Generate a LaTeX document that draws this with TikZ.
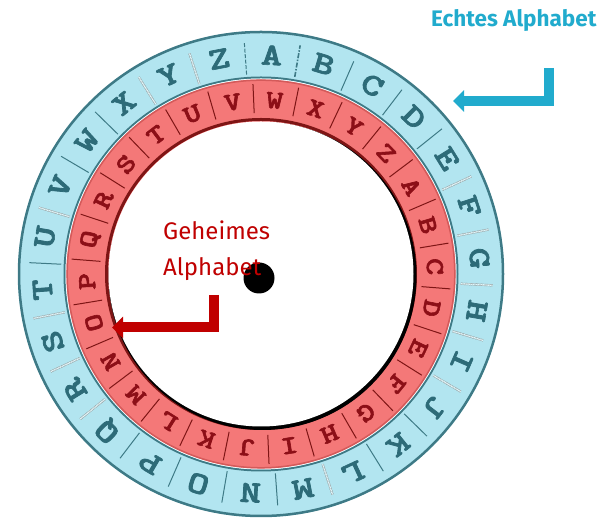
\documentclass[tikz,border=0pt]{standalone}
\usepackage{fontspec}
\usepackage{graphicx}
\usetikzlibrary{arrows.meta,calc}
\newfontfamily\labelfont{Fira Sans}
\newfontfamily\wheelfont{lmmonolt10-bold.otf}[FakeBold=2]
\definecolor{ringblue}{HTML}{B2E5F0}
\definecolor{tealdark}{HTML}{3E7A86}
\definecolor{tealletter}{HTML}{2D6B78}
\definecolor{ringred}{HTML}{F47878}
\definecolor{redshade}{HTML}{D45A5A}
\definecolor{maroon}{HTML}{7E1515}
\definecolor{redletter}{HTML}{8C0F17}
\definecolor{echteblue}{HTML}{21ABCD}
\definecolor{geheimred}{HTML}{C00000}
\tikzset{
  outerletter/.style={text=tealletter, inner sep=0pt,
    font=\wheelfont\fontsize{31}{31}\selectfont},
  innerletter/.style={text=redletter, inner sep=0pt,
    font=\wheelfont\fontsize{26}{26}\selectfont},
  seps/.style={draw=tealdark, line width=1},
  sepl/.style={draw=black!45, line width=0.4, double=white!60!ringblue, double distance=1.4, dash pattern=on 1.2 off 0.5},
  sepd/.style={draw=tealdark, line width=1, dash pattern=on 4 off 1.5},
  sepdd/.style={draw=tealdark, line width=1.6, dash pattern=on 5 off 1.5 on 1.5 off 1.5},
  innersep/.style={draw=maroon, line width=1},
  bigarrow/.style={line width=10pt, line join=miter, -{Triangle[width=21pt,length=11pt]}},
}
\begin{document}
\begin{tikzpicture}[x=1pt,y=1pt]
\useasboundingbox (0,0) rectangle (614,519);
\coordinate (C) at (261,245);
% outer (blue) ring
\fill[ringblue] (C) circle (243);
\draw[tealdark, line width=2.5] (C) circle (242);
\draw[tealdark, line width=2] (C) circle (196.5);
\fill[white!85!ringblue] (C) circle (195.5);
% inner (red) ring
\fill[ringred] (C) circle (194.5);
\draw[redshade, line width=1.5] (C) circle (193.8);
\draw[maroon, line width=3] (C) circle (154.5);
\fill[black] ($(C)+(1.5,-2)$) circle (154);
\fill[white] (C) circle (152.5);
% outer separators
\foreach \k/\t in {0/dd,1/s,2/s,3/s,4/l,5/l,6/l,7/l,8/l,9/s,10/s,11/l,12/s,13/s,14/s,15/s,16/l,17/l,18/l,19/s,20/l,21/s,22/s,23/l,24/l,25/d}{
  \pgfmathsetmacro{\ang}{87.2-\k*360/26-360/52}
  \draw[sep\t] ($(C)+(\ang:200)$) -- ($(C)+(\ang:232)$);
}
% inner separators
\foreach \k in {0,...,25}{
  \pgfmathsetmacro{\ang}{85.5-\k*360/26-360/52}
  \draw[innersep] ($(C)+(\ang:161)$) -- ($(C)+(\ang:190)$);
}
% outer letters
\foreach \l [count=\k from 0] in {A,B,C,D,E,F,G,H,I,J,K,L,M,N,O,P,Q,R,S,T,U,V,W,X,Y,Z}{
  \pgfmathsetmacro{\ang}{87.2-\k*360/26}
  \node[outerletter, rotate=\ang-90] (o\k) at ($(C)+(\ang:219)$) {\scalebox{1.3}[1]{\l}};
}
% inner letters
\foreach \l [count=\k from 0] in {W,X,Y,Z,A,B,C,D,E,F,G,H,I,J,K,L,M,N,O,P,Q,R,S,T,U,V}{
  \pgfmathsetmacro{\ang}{85.5-\k*360/26}
  \node[innerletter, rotate=\ang-90] (i\k) at ($(C)+(\ang:174)$) {\scalebox{1.25}[1]{\l}};
}
% hub
\node[circle, fill=black, minimum size=31pt, inner sep=0pt] (hub) at (259,241) {};
% labels
\node[anchor=base west, inner sep=0pt, text=echteblue, font=\labelfont\bfseries\fontsize{22.5}{22.5}\selectfont] (echt) at (431,492) {Echtes Alphabet};
\node[anchor=base west, inner sep=0pt, text=geheimred, font=\labelfont\fontsize{24}{24}\selectfont] (geh1) at (163,279) {Geheimes};
\node[anchor=base west, inner sep=0pt, text=geheimred, font=\labelfont\fontsize{24}{24}\selectfont] (geh2) at (163,243) {Alphabet};
% arrows
\coordinate (ea1) at (549,451);
\coordinate (ea2) at (549,418);
\coordinate (eatip) at (453,418);
\draw[bigarrow, echteblue] (ea1) -- (ea2) -- (eatip);
\coordinate (ga1) at (214,224);
\coordinate (ga2) at (214,191.5);
\coordinate (gatip) at (112,191.5);
\draw[bigarrow, geheimred] (ga1) -- (ga2) -- (gatip);
\end{tikzpicture}
\end{document}
